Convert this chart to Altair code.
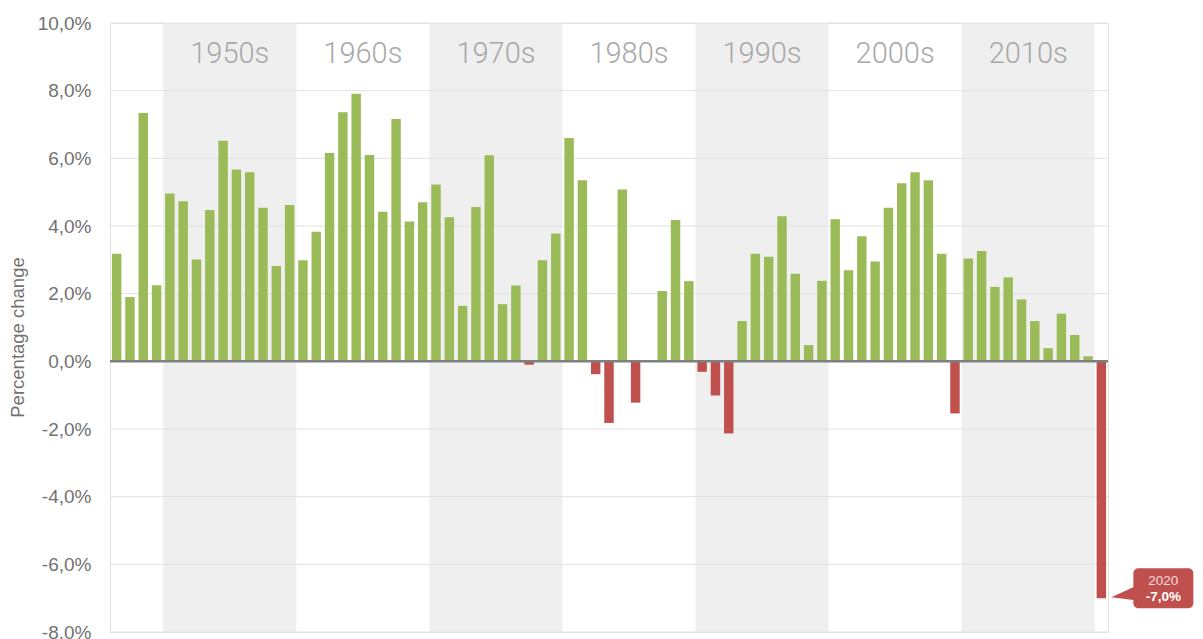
import altair as alt
import pandas as pd

# ---------------- data ----------------
years = list(range(1946, 2021))
growth = [
    3.18, 1.90, 7.34, 2.25,
    4.96, 4.73, 3.01, 4.47, 6.52, 5.67, 5.59, 4.54, 2.82, 4.62,
    2.99, 3.83, 6.16, 7.36, 7.91, 6.10, 4.42, 7.16, 4.13, 4.70,
    5.23, 4.26, 1.64, 4.56, 6.09, 1.69, 2.24, -0.10, 2.99, 3.78,
    6.60, 5.35, -0.38, -1.82, 5.08, -1.22, 0.00, 2.08, 4.18, 2.37,
    -0.31, -1.01, -2.13, 1.19, 3.18, 3.09, 4.29, 2.59, 0.48, 2.38,
    4.20, 2.69, 3.70, 2.95, 4.54, 5.26, 5.59, 5.35, 3.18, -1.54,
    3.04, 3.26, 2.20, 2.48, 1.83, 1.19, 0.39, 1.41, 0.78, 0.15,
    -7.00,
]
decades = [1950, 1960, 1970, 1980, 1990, 2000, 2010]
decade_labels = ["1950s", "1960s", "1970s", "1980s", "1990s", "2000s", "2010s"]
decade_shaded = [True, False, True, False, True, False, True]
y_ticks = [-8, -6, -4, -2, 0, 2, 4, 6, 8, 10]
callout_year = [2020]
callout_value = [-7.0]
callout_year_text = ["2020"]
callout_value_text = ["-7,0%"]

GREEN = "#9bbb59"
RED = "#c0504d"
FONT = "Liberation Sans"

bars_df = pd.DataFrame({"year": years, "v": growth})
dec_df = pd.DataFrame({"decade": decades, "label": decade_labels, "shaded": decade_shaded})
grid_df = pd.DataFrame({"tick": y_ticks})
call_df = pd.DataFrame({"year": callout_year, "v": callout_value,
                        "ytxt": callout_year_text, "vtxt": callout_value_text})

xscale = alt.Scale(domain=[1945.5, 2020.5], nice=False, zero=False, padding=0)
yscale = alt.Scale(domain=[-8, 10], nice=False, zero=False, padding=0)

yaxis = alt.Axis(
    values=y_ticks,
    labelExpr="replace(replace(format(datum.value, '.1f'), '.', ','), '\u2212', '-') + '%'",
    domain=False, ticks=False, tickSize=0, grid=False,
    labelPadding=19, labelFontSize=19, labelColor="#727272", labelFont=FONT,
    title="Percentage change", titleFontSize=18.5, titleColor="#727272",
    titleFont=FONT, titleFontWeight="normal", titleAngle=-90,
    titleX=-93, titleY=314, titleAlign="center", titleBaseline="middle",
)


def Y(field):
    return alt.Y(field, scale=yscale, axis=yaxis, title="Percentage change")


def X(field):
    return alt.X(field, scale=xscale, axis=None)


bands = alt.Chart(dec_df).transform_filter("datum.shaded").transform_calculate(
    b0="datum.decade - 0.5", b1="datum.decade + 9.5", top="10", bottom="-8"
).mark_rect(color="#efefef").encode(
    x=X("b0:Q"), x2="b1:Q",
    y=Y("top:Q"), y2="bottom:Q",
)

grid = alt.Chart(grid_df).mark_rule(color="#e2e2e2", strokeWidth=1).encode(
    y=Y("tick:Q"),
)

dlabels = alt.Chart(dec_df).transform_calculate(
    mid="datum.decade + 4.5"
).mark_text(fontSize=29, font="Roboto", fontWeight=300, color="#a8a8a8",
            baseline="middle", align="center").encode(
    x=X("mid:Q"),
    y=alt.value(31),
    text="label:N",
)

bars = alt.Chart(bars_df).transform_calculate(
    x0="datum.year - 0.355", x1="datum.year + 0.355", base="0"
).mark_bar().encode(
    x=X("x0:Q"), x2="x1:Q",
    y=Y("v:Q"), y2="base:Q",
    color=alt.condition("datum.v < 0", alt.value(RED), alt.value(GREEN)),
)

zero = alt.Chart(grid_df).transform_filter("datum.tick == 0").mark_rule(
    color="#7f7f7f", strokeWidth=2.5
).encode(y=Y("tick:Q"))

box = alt.Chart(call_df).mark_rect(
    color=RED, cornerRadius=5, xOffset=32, x2Offset=92, yOffset=-30, y2Offset=10
).encode(
    x=X("year:Q"), x2="year:Q",
    y=Y("v:Q"), y2="v:Q",
)

pointer = alt.Chart(call_df).mark_point(
    shape="M 10 -1 L 34 -12 L 34 2 Z", size=4, filled=True, fill=RED,
    strokeWidth=0, opacity=1,
).encode(
    x=X("year:Q"),
    y=Y("v:Q"),
)

t_year = alt.Chart(call_df).mark_text(
    fontSize=13.5, font=FONT, color="#f6dede", align="center", baseline="middle",
    dx=62, dy=-17,
).encode(
    x=X("year:Q"),
    y=Y("v:Q"),
    text="ytxt:N",
)

t_val = alt.Chart(call_df).mark_text(
    fontSize=13.5, font=FONT, fontWeight="bold", color="#ffffff", align="center",
    baseline="middle", dx=62, dy=-1,
).encode(
    x=X("year:Q"),
    y=Y("v:Q"),
    text="vtxt:N",
)

chart = alt.layer(
    bands, grid, dlabels, bars, zero, box, pointer, t_year, t_val
).properties(
    width=998, height=609,
    autosize=alt.AutoSizeParams(type="none"),
    padding={"left": 102, "top": 15, "right": 87, "bottom": 7},
    background="#ffffff",
).configure_view(stroke="#e2e2e2", strokeWidth=1)

chart.save("out.html", embed_options={"renderer": "svg", "actions": False})
